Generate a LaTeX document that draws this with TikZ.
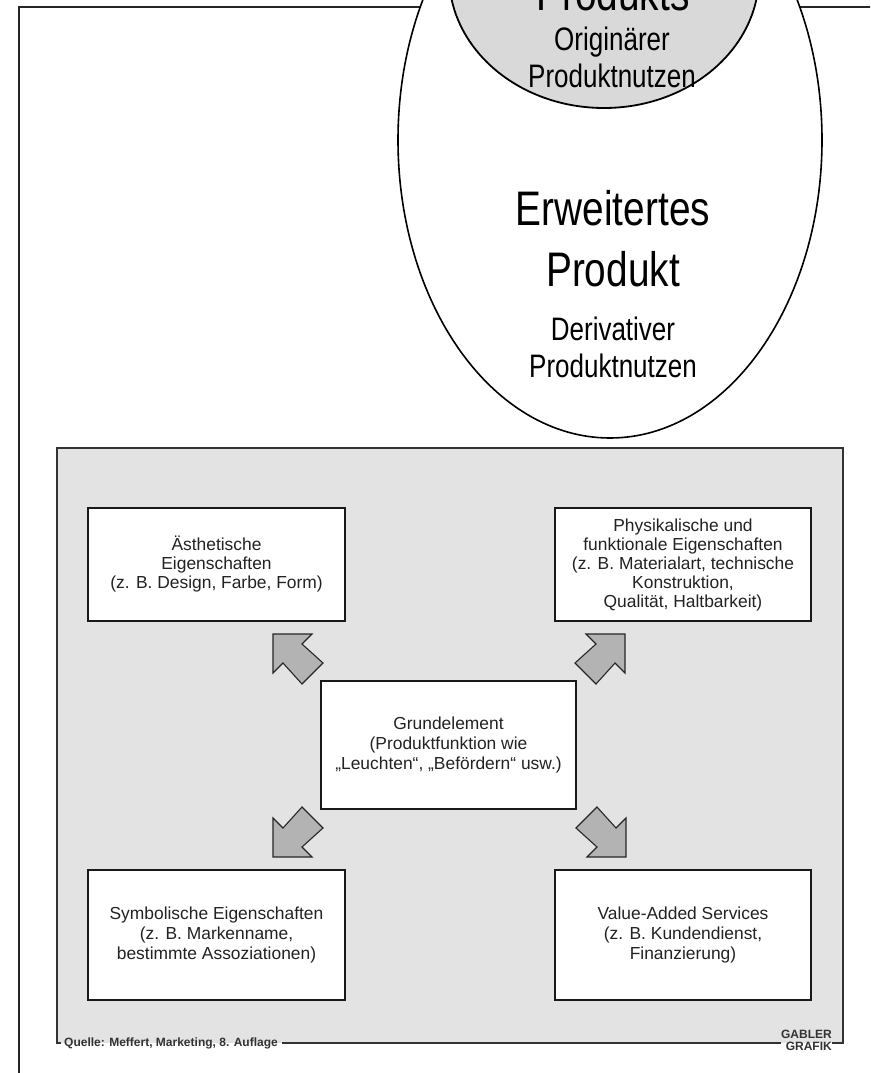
\documentclass[tikz,border=0pt]{standalone}
\usepackage{fontspec}
\setmainfont{Liberation Sans}
\newfontfamily\narrowsans[FakeStretch=0.8]{Liberation Sans}
\definecolor{panelgray}{HTML}{E3E3E3}
\definecolor{coregray}{HTML}{D9D9D9}
\definecolor{arrowgray}{HTML}{B3B3B3}
\definecolor{inkgray}{HTML}{222222}

\tikzset{
  outerframe/.style={draw=black!85,line width=2pt},
  ringline/.style={draw=black,line width=1.6pt},
  bigtext/.style={font=\narrowsans\fontsize{48.5}{58}\selectfont,inner sep=0pt,anchor=base},
  smalltext/.style={font=\narrowsans\fontsize{32.5}{37}\selectfont,inner sep=0pt,anchor=base},
  featbox/.style={draw=black!90,line width=1.3pt,fill=white,inner sep=0pt,align=center,
    text=inkgray,font=\fontsize{17.4}{20}\selectfont},
  panelline/.style={draw=black!80,line width=1.4pt},
  captiontext/.style={font=\bfseries\fontsize{12}{12}\selectfont,text=black!80,inner sep=0pt},
  arrowshape/.style={fill=arrowgray,draw=black!85,line width=1.1pt,line join=miter},
  blockarrow/.pic={
    \path[arrowshape] (0,0) -- (39,0) -- (29,10) -- (50,29) -- (29,50) -- (10,29) -- (0,39) -- cycle;
  }
}

\begin{document}
\begin{tikzpicture}[x=1pt,y=-1pt]
\useasboundingbox (0,0) rectangle (870,1073);
\clip (0,0) rectangle (870,1073);
\fill[white] (0,0) rectangle (870,1073);

% outer frame, running past the page edges
\draw[outerframe] (19,1090) -- (19,7) -- (890,7);

% extended product ring and product core
\draw[ringline,fill=white] (610,140) ellipse [x radius=212pt, y radius=298pt];
\draw[ringline,line width=1.8pt,fill=coregray] (604,-25) ellipse [x radius=155pt, y radius=133pt];

\node[bigtext]   (coretitle) at (613,11)  {Produkts};
\node[smalltext] (coresub1)  at (612,51)  {Originärer};
\node[smalltext] (coresub2)  at (612,88)  {Produktnutzen};

\node[bigtext]   (exttitle1) at (613,225) {Erweitertes};
\node[bigtext]   (exttitle2) at (613,286) {Produkt};
\node[smalltext] (extsub1)   at (613,340) {Derivativer};
\node[smalltext] (extsub2)   at (613,377) {Produktnutzen};

% product components panel
\fill[panelgray] (57,448) rectangle (843,1043);

\node[captiontext,anchor=west] (source) at (64,1043) {Quelle: Meffert, Marketing, 8. Auflage};
\node[captiontext,anchor=east,align=right,font=\bfseries\fontsize{12}{12}\selectfont] (brand) at (832,1040) {GABLER\\GRAFIK};

\draw[panelline] (61,1043) -- (57,1043) -- (57,448) -- (843,448) -- (843,1043) -- (brand.east |- 0,1043);
\draw[panelline] ([xshift=4pt]source.east) -- (brand.west |- source.east);

\node[featbox,minimum width=257pt,minimum height=113pt,font=\fontsize{17.4}{19}\selectfont] (aesth) at (216.5,564.5)
  {Ästhetische\\Eigenschaften\\(z. B. Design, Farbe, Form)};
\node[featbox,minimum width=256pt,minimum height=113pt,font=\fontsize{17.4}{19}\selectfont] (phys) at (683,564.5)
  {Physikalische und\\funktionale Eigenschaften\\(z. B. Materialart, technische\\Konstruktion,\\Qualität, Haltbarkeit)};
\node[featbox,minimum width=255pt,minimum height=128pt] (core) at (448.5,745)
  {Grundelement\\(Produktfunktion wie\\„Leuchten“, „Befördern“ usw.)};
\node[featbox,minimum width=257pt,minimum height=130pt] (symb) at (216.5,935)
  {Symbolische Eigenschaften\\(z. B. Markenname,\\bestimmte Assoziationen)};
\node[featbox,minimum width=256pt,minimum height=130pt] (vas) at (683,935)
  {Value-Added Services\\(z. B. Kundendienst,\\Finanzierung)};

% block arrows from the core element to the four property groups
\pic at (273,634) {blockarrow};
\pic[xscale=-1] at (625,634) {blockarrow};
\pic[yscale=-1] at (273,857) {blockarrow};
\pic[xscale=-1,yscale=-1] at (626,857) {blockarrow};
\end{tikzpicture}
\end{document}
